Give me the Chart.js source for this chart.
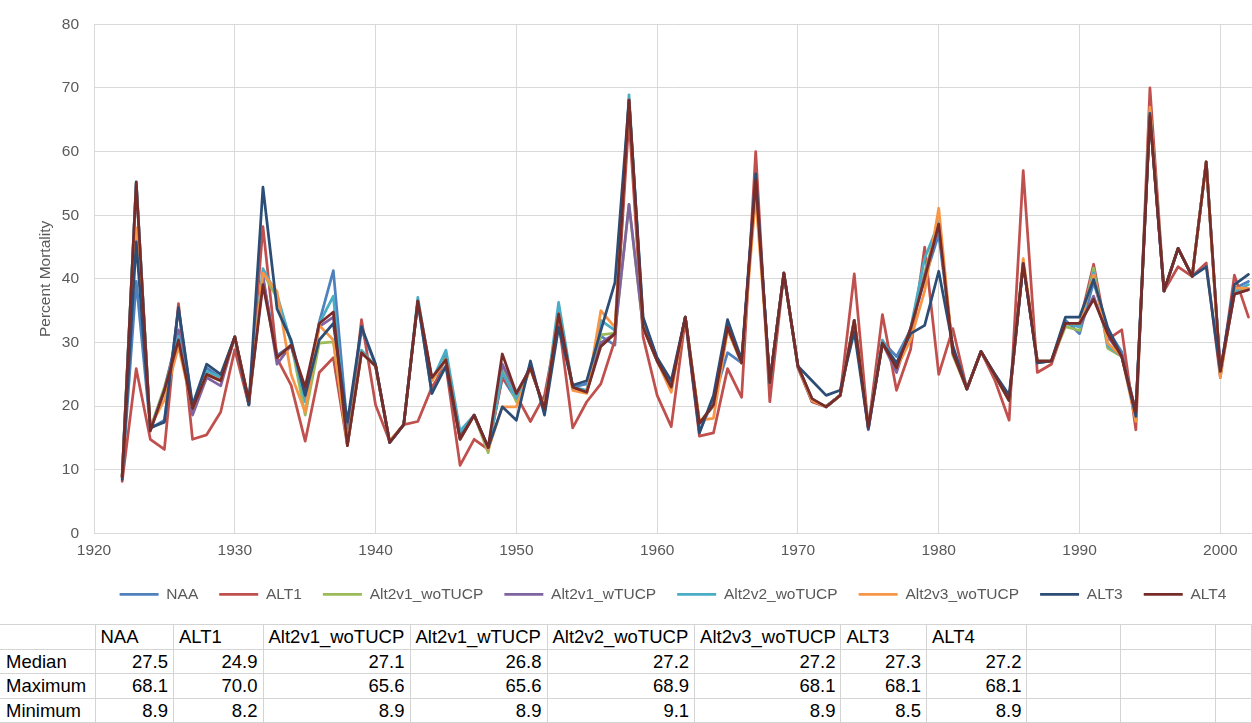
<!DOCTYPE html>
<html>
<head>
<meta charset="utf-8">
<script src="https://cdn.jsdelivr.net/npm/chart.js@4.4.1/dist/chart.umd.min.js"></script>
<style>
    html, body { margin: 0; padding: 0; background: #ffffff; overflow: hidden; }
    #wrap { position: absolute; left: 0; top: 0; width: 1252px; height: 612px; }
    #stats {
        position: absolute; left: 0; top: 624px;
        border-collapse: collapse; table-layout: fixed; width: 1252px;
        font-family: "Liberation Sans", Arial, sans-serif; font-size: 18.5px; color: #000;
    }
    #stats td {
        border: 1px solid #d4d4d4; height: 23.5px; padding: 0 5px;
        white-space: nowrap; overflow: hidden; line-height: 23px;
    }
    #stats td:first-child { border-left: none; padding-left: 6px; }
    #stats td.num { text-align: right; }
</style>
</head>
<body>
<div id="wrap"><canvas id="c" width="1252" height="612"></canvas></div>
<table id="stats"></table>
<script>
// Water years on the x axis
const years = [
    1922, 1923, 1924, 1925, 1926, 1927, 1928, 1929, 1930, 1931,
    1932, 1933, 1934, 1935, 1936, 1937, 1938, 1939, 1940, 1941,
    1942, 1943, 1944, 1945, 1946, 1947, 1948, 1949, 1950, 1951,
    1952, 1953, 1954, 1955, 1956, 1957, 1958, 1959, 1960, 1961,
    1962, 1963, 1964, 1965, 1966, 1967, 1968, 1969, 1970, 1971,
    1972, 1973, 1974, 1975, 1976, 1977, 1978, 1979, 1980, 1981,
    1982, 1983, 1984, 1985, 1986, 1987, 1988, 1989, 1990, 1991,
    1992, 1993, 1994, 1995, 1996, 1997, 1998, 1999, 2000, 2001,
    2002,
];

const xTicks = [1920, 1930, 1940, 1950, 1960, 1970, 1980, 1990, 2000];
const yTicks = [0, 10, 20, 30, 40, 50, 60, 70, 80];

// Percent mortality, one value per year
const naa = [
    8.9, 39.6, 16.5, 17.8, 35.3, 19.8, 26.0, 24.5, 30.9, 20.2,
    40.0, 28.0, 29.5, 21.5, 33.2, 41.3, 16.5, 32.0, 26.5, 14.3,
    17.1, 36.5, 22.0, 28.0, 15.5, 18.6, 13.5, 24.5, 21.0, 26.5,
    19.0, 34.0, 23.0, 23.5, 31.0, 29.6, 68.1, 33.5, 27.5, 23.5,
    34.0, 16.0, 21.0, 28.4, 26.8, 56.0, 23.7, 40.9, 26.3, 20.7,
    20.0, 21.7, 33.0, 16.5, 30.2, 27.8, 32.0, 40.0, 47.0, 29.0,
    22.7, 28.6, 25.0, 21.0, 42.4, 26.8, 27.1, 33.5, 31.4, 39.5,
    32.0, 28.5, 19.0, 66.0, 38.1, 44.8, 40.4, 58.4, 25.5, 38.5,
    39.6,
];
const alt1 = [
    8.2, 25.9, 14.8, 13.2, 36.1, 14.8, 15.5, 19.1, 28.9, 20.2,
    48.2, 27.5, 23.3, 14.5, 25.3, 27.6, 13.8, 33.6, 20.2, 14.5,
    17.1, 17.6, 23.0, 26.3, 10.7, 14.8, 13.2, 24.5, 21.7, 17.6,
    21.7, 33.5, 16.6, 20.7, 23.5, 30.4, 65.2, 30.9, 21.7, 16.8,
    33.7, 15.3, 15.8, 25.9, 21.4, 60.0, 20.7, 40.9, 26.0, 20.7,
    19.9, 21.7, 40.8, 16.5, 34.4, 22.5, 28.9, 45.0, 25.0, 32.2,
    22.7, 28.6, 24.0, 17.8, 57.0, 25.3, 26.6, 33.0, 33.0, 42.3,
    30.5, 32.0, 16.3, 70.0, 38.1, 41.9, 40.4, 42.5, 24.5, 40.6,
    34.0,
];
const alt2v1WoTucp = [
    8.9, 55.0, 16.5, 23.0, 31.0, 19.5, 25.0, 24.0, 30.9, 20.5,
    41.0, 37.0, 30.0, 18.6, 29.9, 30.1, 14.0, 28.5, 26.3, 14.3,
    17.1, 36.5, 24.0, 27.5, 15.0, 18.6, 12.7, 26.0, 20.7, 26.0,
    19.6, 34.8, 23.0, 22.2, 31.2, 31.5, 51.7, 32.4, 27.1, 23.0,
    34.0, 17.3, 20.0, 32.0, 26.8, 55.0, 23.7, 40.9, 26.3, 21.0,
    19.9, 21.7, 33.5, 16.8, 30.0, 26.0, 32.0, 41.0, 49.0, 28.0,
    22.7, 28.6, 24.8, 20.9, 42.5, 27.1, 27.1, 32.5, 31.9, 41.7,
    29.1, 27.8, 19.0, 65.6, 38.1, 44.8, 40.4, 58.4, 25.0, 38.0,
    38.5,
];
const alt2v1WTucp = [
    8.9, 55.0, 16.3, 22.5, 32.0, 18.6, 24.5, 23.2, 30.9, 20.7,
    40.5, 26.6, 29.6, 22.0, 32.5, 34.0, 13.9, 28.4, 26.3, 14.3,
    17.1, 36.5, 24.3, 27.3, 14.8, 18.6, 13.3, 26.6, 22.0, 26.0,
    19.6, 34.5, 23.0, 22.2, 30.0, 31.4, 51.7, 32.4, 27.1, 23.0,
    34.0, 17.3, 20.2, 33.0, 26.8, 55.5, 23.7, 40.9, 26.3, 21.0,
    19.9, 21.7, 33.5, 16.3, 29.9, 25.3, 32.2, 40.5, 48.6, 28.4,
    22.7, 28.6, 24.8, 20.9, 42.4, 27.1, 27.1, 33.0, 32.5, 37.3,
    31.0, 27.8, 19.1, 65.6, 38.1, 44.8, 40.4, 58.4, 25.5, 37.6,
    38.3,
];
const alt2v2WoTucp = [
    9.1, 55.3, 16.4, 22.5, 31.0, 19.6, 25.5, 24.5, 30.9, 20.7,
    41.6, 37.5, 30.0, 20.7, 33.0, 37.3, 14.2, 28.8, 26.3, 14.3,
    17.1, 37.1, 24.0, 28.8, 16.1, 18.6, 13.2, 25.3, 21.2, 26.0,
    19.6, 36.3, 23.0, 22.5, 33.5, 31.9, 68.9, 32.4, 27.1, 23.0,
    34.0, 17.3, 20.2, 32.4, 26.8, 55.5, 23.7, 40.9, 26.3, 21.0,
    19.9, 21.7, 33.5, 16.8, 30.4, 26.5, 32.2, 43.2, 48.8, 28.8,
    22.7, 28.6, 24.8, 20.9, 42.4, 27.1, 27.1, 33.0, 32.5, 41.0,
    29.5, 27.8, 19.1, 66.5, 38.1, 44.8, 40.4, 58.4, 25.0, 38.0,
    39.1,
];
const alt2v3WoTucp = [
    8.9, 48.0, 16.8, 21.0, 29.4, 19.6, 25.0, 24.0, 30.9, 20.7,
    40.9, 38.0, 25.0, 19.1, 32.7, 30.4, 14.0, 28.4, 26.3, 14.5,
    17.1, 36.5, 24.0, 27.3, 14.8, 18.6, 13.2, 19.9, 19.9, 26.0,
    19.6, 34.5, 22.5, 22.0, 35.0, 32.4, 68.1, 32.4, 27.1, 22.2,
    34.0, 17.8, 18.1, 32.0, 26.8, 53.0, 23.7, 40.9, 26.3, 20.9,
    19.9, 21.7, 33.5, 16.8, 29.9, 26.0, 30.4, 38.1, 51.1, 28.4,
    22.7, 28.6, 24.8, 20.9, 43.2, 27.1, 27.1, 33.0, 33.0, 40.6,
    29.9, 27.8, 17.6, 67.0, 38.1, 44.8, 40.4, 58.4, 24.5, 38.6,
    38.5,
];
const alt3 = [
    8.5, 45.8, 16.6, 17.5, 35.5, 20.2, 26.6, 25.0, 30.9, 20.2,
    54.4, 35.3, 30.4, 21.7, 30.4, 33.0, 17.5, 32.5, 26.6, 14.3,
    17.1, 36.5, 22.0, 26.3, 15.0, 18.6, 13.5, 19.9, 17.8, 27.1,
    18.6, 32.4, 23.3, 24.0, 31.9, 39.4, 68.1, 34.0, 27.6, 24.0,
    34.0, 15.8, 21.7, 33.6, 27.3, 56.5, 23.7, 40.9, 26.3, 24.0,
    21.7, 22.5, 31.7, 16.5, 29.9, 26.8, 31.4, 32.7, 41.2, 29.5,
    22.7, 28.6, 25.0, 21.7, 42.4, 26.8, 27.1, 34.0, 34.0, 39.9,
    32.4, 27.8, 18.4, 66.0, 38.1, 44.8, 40.4, 41.9, 25.5, 39.1,
    40.7,
];
const alt4 = [
    8.9, 55.2, 16.1, 22.5, 30.4, 19.6, 25.0, 24.0, 30.9, 20.9,
    39.1, 27.6, 29.6, 23.0, 33.0, 34.8, 13.8, 28.4, 26.3, 14.3,
    17.1, 36.5, 24.5, 27.3, 14.8, 18.6, 13.5, 28.2, 22.0, 26.0,
    19.6, 34.5, 23.0, 22.2, 29.4, 31.4, 68.1, 32.4, 27.1, 23.0,
    34.0, 17.3, 20.2, 32.4, 26.8, 55.5, 23.7, 40.9, 26.3, 21.2,
    19.9, 21.7, 33.5, 16.8, 29.9, 26.0, 32.2, 40.1, 48.6, 28.4,
    22.7, 28.6, 24.8, 20.9, 42.4, 27.1, 27.1, 33.0, 33.0, 36.8,
    31.4, 27.8, 19.1, 65.6, 38.1, 44.8, 40.4, 58.4, 25.5, 37.6,
    38.3,
];

const seriesNames = ['NAA', 'ALT1', 'Alt2v1_woTUCP', 'Alt2v1_wTUCP', 'Alt2v2_woTUCP', 'Alt2v3_woTUCP', 'ALT3', 'ALT4'];
const seriesValues = [naa, alt1, alt2v1WoTucp, alt2v1WTucp, alt2v2WoTucp, alt2v3WoTucp, alt3, alt4];
const seriesColors = ['#4f81bd', '#c0504d', '#9bbb59', '#8064a2', '#4bacc6', '#f79646', '#2c4d75', '#772c2a'];

// Summary table under the chart
const statLabels = ['Median', 'Maximum', 'Minimum'];
const statMedian = ['27.5', '24.9', '27.1', '26.8', '27.2', '27.2', '27.3', '27.2'];
const statMaximum = ['68.1', '70.0', '65.6', '65.6', '68.9', '68.1', '68.1', '68.1'];
const statMinimum = ['8.9', '8.2', '8.9', '8.9', '9.1', '8.9', '8.5', '8.9'];

const FONT = '"Liberation Sans", Arial, sans-serif';
const GRID = '#d9d9d9';
const TXT = '#595959';

function buildTable() {
    const colW = [95, 78.5, 89.5, 147, 137, 147.6, 146.4, 85.5, 100.5, 94, 95, 36];
    const t = document.getElementById('stats');
    const cg = document.createElement('colgroup');
    colW.forEach((w) => {
        const c = document.createElement('col');
        c.style.width = w + 'px';
        cg.appendChild(c);
    });
    t.appendChild(cg);
    const extra = colW.length - 1 - seriesNames.length;
    const addRow = (first, cells, isNum) => {
        const tr = document.createElement('tr');
        const td0 = document.createElement('td');
        td0.textContent = first;
        tr.appendChild(td0);
        cells.forEach((v) => {
            const td = document.createElement('td');
            td.textContent = v;
            if (isNum) td.className = 'num';
            tr.appendChild(td);
        });
        for (let i = 0; i < extra; i++) tr.appendChild(document.createElement('td'));
        t.appendChild(tr);
    };
    addRow('', seriesNames, false);
    addRow(statLabels[0], statMedian, true);
    addRow(statLabels[1], statMaximum, true);
    addRow(statLabels[2], statMinimum, true);
}

const datasets = seriesNames.map((name, i) => ({
    label: name,
    data: years.map((yr, k) => ({ x: yr, y: seriesValues[i][k] })),
    borderColor: seriesColors[i],
    backgroundColor: seriesColors[i],
    borderWidth: 2.75,
    pointRadius: 0,
    tension: 0,
    fill: false,
    borderJoinStyle: 'round',
    borderCapStyle: 'round',
    // last series sits on top, as in the spreadsheet
    order: seriesNames.length - i,
}));

new Chart(document.getElementById('c').getContext('2d'), {
    type: 'line',
    data: { datasets },
    options: {
        responsive: false,
        animation: false,
        devicePixelRatio: 1,
        layout: { padding: { top: 4, left: 0, right: 0, bottom: 0 } },
        scales: {
            x: {
                type: 'linear',
                min: 1920,
                max: 2002.25,
                afterBuildTicks(s) {
                    s.ticks = xTicks.map((v) => ({ value: v }));
                },
                afterFit(s) {
                    s.height = 32;
                },
                grid: { color: GRID, lineWidth: 1, drawTicks: false },
                border: { display: true, color: GRID },
                ticks: {
                    color: TXT,
                    font: { size: 15.5, family: FONT },
                    padding: 8,
                    maxRotation: 0,
                    autoSkip: false,
                    callback: (v) => String(v),
                },
            },
            y: {
                min: 0,
                max: 80,
                afterBuildTicks(s) {
                    s.ticks = yTicks.map((v) => ({ value: v }));
                },
                afterFit(s) {
                    s.width = 94;
                },
                grid: { color: GRID, lineWidth: 1, drawTicks: false },
                border: { display: true, color: GRID },
                ticks: {
                    color: TXT,
                    font: { size: 15.5, family: FONT },
                    padding: 15,
                    callback: (v) => String(v),
                },
                title: {
                    display: true,
                    text: 'Percent Mortality',
                    color: TXT,
                    font: { size: 15.5, family: FONT },
                    padding: { top: 36, bottom: 0 },
                },
            },
        },
        plugins: {
            tooltip: { enabled: false },
            legend: {
                position: 'bottom',
                fullSize: false,
                labels: {
                    usePointStyle: true,
                    pointStyle: 'line',
                    pointStyleWidth: 39,
                    boxHeight: 3,
                    padding: 21,
                    color: TXT,
                    font: { size: 15.5, family: FONT },
                    sort: (a, b) => a.datasetIndex - b.datasetIndex,
                },
            },
        },
    },
});

buildTable();
</script>
</body>
</html>
